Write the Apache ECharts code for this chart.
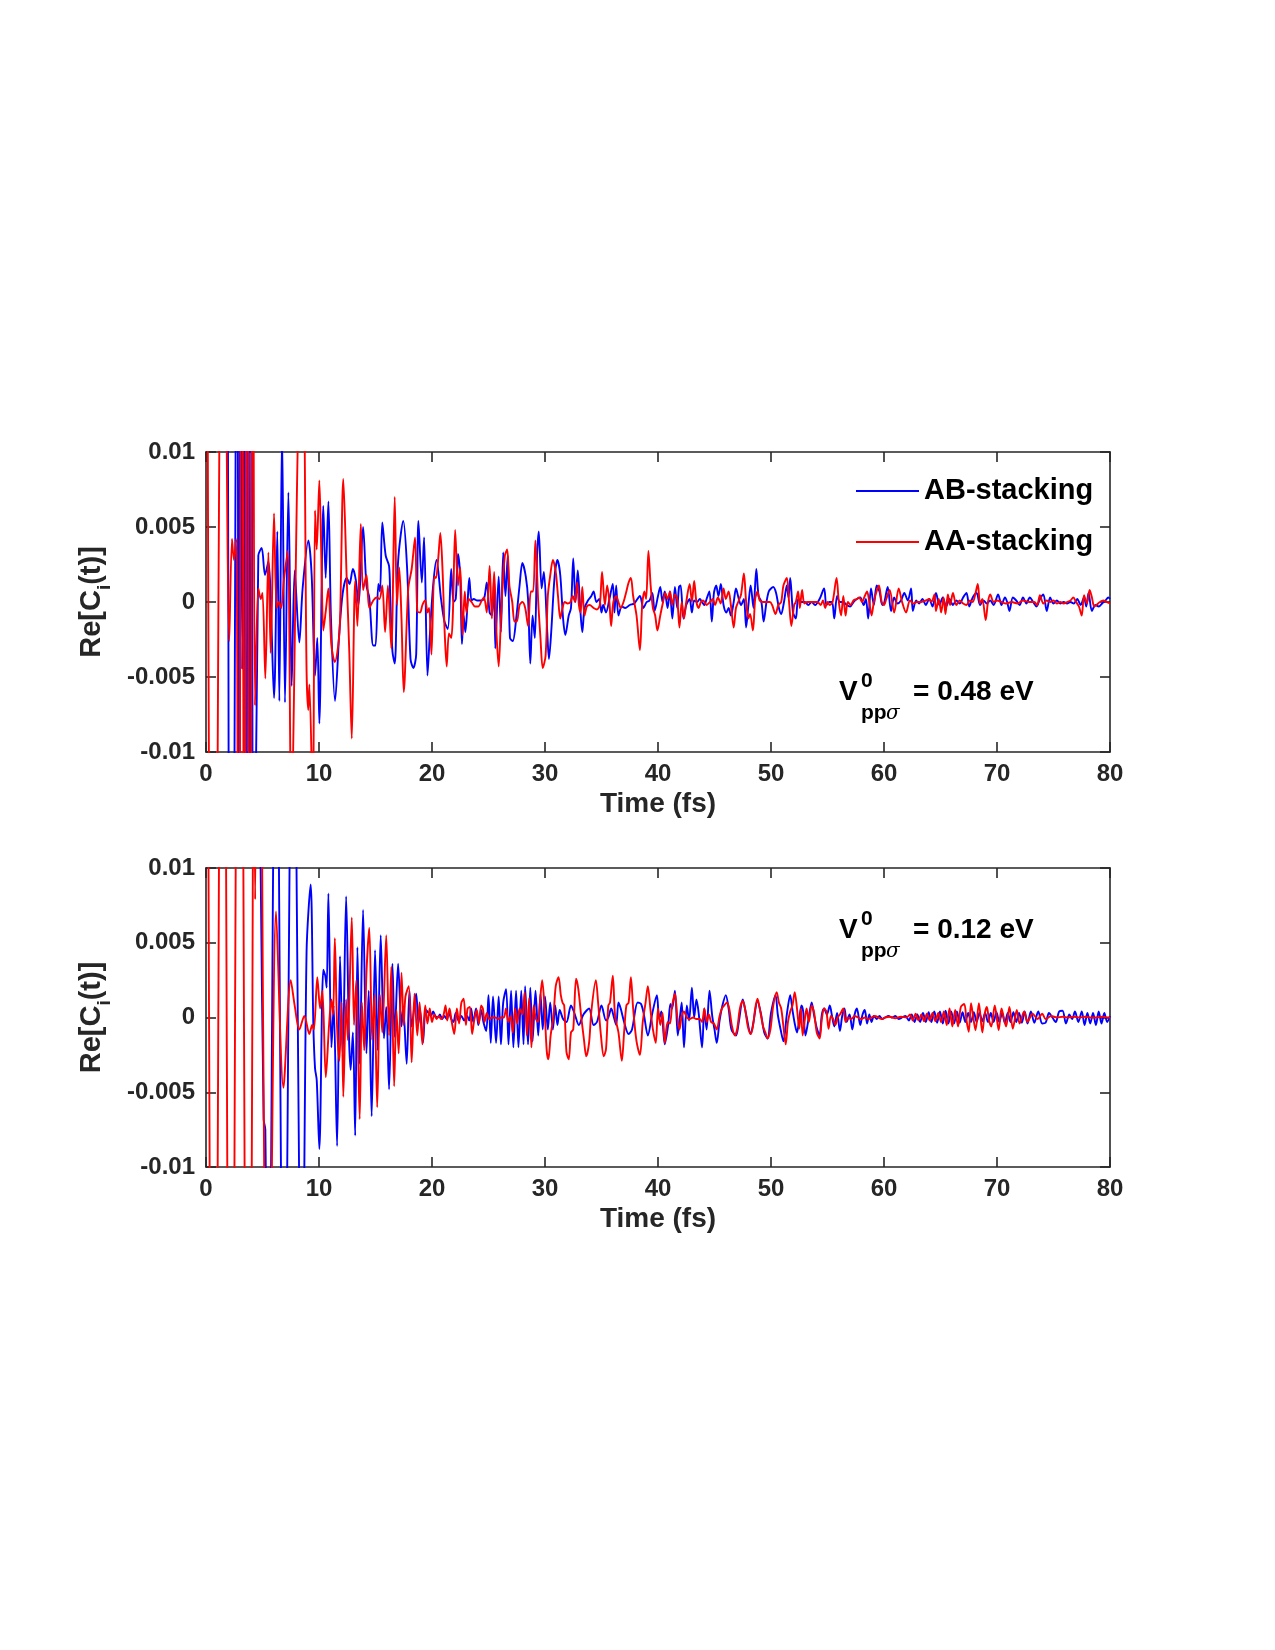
<!DOCTYPE html>
<html><head><meta charset="utf-8">
<script src="https://cdn.jsdelivr.net/npm/echarts/dist/echarts.min.js"></script>
<style>html,body{margin:0;padding:0;background:#fff}#c{width:1275px;height:1650px}</style>
</head><body><div id="c"></div>
<script>
// ---------------- data (time in fs, values in units of 1e-3) ----------------
const X_TICKS = [0, 10, 20, 30, 40, 50, 60, 70, 80];
const Y_TICK_VALUES = [-10, -5, 0, 5, 10];
const Y_TICK_LABELS = ['-0.01', '-0.005', '0', '0.005', '0.01'];
const SERIES_NAMES = ['AB-stacking', 'AA-stacking'];
const PANEL_LABELS = ['= 0.48 eV', '= 0.12 eV'];

// top panel, AB-stacking (blue)
const TOP_AB = [
[0,40],[1.85,40],[2.05,-35],[2.3,-40],[2.57,0],[2.75,35],[2.92,-35],[3.05,30],[3.2,-4.5],[3.35,32],[3.55,-35],[3.72,35],[3.92,-38],[4.05,35],[4.2,-30],
[4.63,3.1],[4.93,3.6],[5.22,1.8],[5.52,2.7],[6.02,-6.4],[6.31,4.7],[6.49,-6.6],[6.73,11.5],[6.99,-6.7],[7.29,7.3],[7.58,-5.6],[7.85,2.1],[8.26,-2.7],[8.55,0.9],
[9.06,4.1],[9.35,1.8],[9.65,-4.9],[9.85,-2.4],[10.03,-8.1],[10.38,6.4],[10.59,1.6],[10.83,6.7],[11.06,-1.1],[11.42,-6.6],[11.8,-2.0],[12.1,0.6],[12.45,1.6],
[12.7,1.2],[13.0,2.2],[13.25,1.5],[13.5,-0.2],[13.9,5.0],[14.2,1.1],[14.45,0.3],[14.8,-2.9],[15.0,-2.9],[15.25,1.2],[15.4,0.7],[15.6,5.3],[15.9,3.1],[16.2,2.4],
[16.3,0.4],[16.5,-3.3],[16.7,-4.1],[17.0,2.7],[17.46,5.4],[17.8,2.2],[18.1,-3.8],[18.35,-4.4],[18.6,-3.5],[18.8,5.4],[19.1,1.3],[19.3,4.3],[19.6,-4.9],[19.8,-2.3],
[20.1,1.1],[20.4,2.8],[20.8,0.2],[21.1,-1.3],[21.4,-1.8],[21.7,2.2],[21.9,0.0],[22.1,0.2],[22.3,3.2],[22.5,1.6],[22.65,-2.8],[22.8,-0.9],[22.95,-2.0],[23.15,0.0],
[23.3,1.6],[23.5,0.1],[23.7,0.2],[24.0,0.1],[24.3,0.1],[24.6,0.2],[24.85,1.3],[25.1,-0.7],[25.3,-0.9],[25.5,1.6],[25.6,-3.1],[25.9,1.7],[26.1,-2.0],[26.3,3.3],
[26.5,0.4],[26.7,3.1],[26.9,-2.4],[27.15,-2.6],[27.45,-1.1],[27.75,1.1],[28.0,2.6],[28.3,1.7],[28.5,0.2],[28.7,-4.1],[28.9,-0.9],[29.1,-2.4],[29.3,3.1],[29.45,4.7],
[29.7,0.9],[29.9,2.0],[30.2,-2.0],[30.35,-3.8],[30.55,-2.0],[30.85,1.7],[31.1,2.8],[31.35,1.8],[31.6,-1.1],[31.8,-2.2],[32.1,-0.9],[32.3,-0.4],[32.5,2.9],[32.7,0.0],
[32.9,2.1],[33.1,-0.2],[33.3,-2.0],[33.5,-0.4],[33.8,0.1],[34.1,0.4],[34.3,0.7],[34.55,0.0],[34.8,0.2],[35.0,-0.7],[35.15,-0.2],[35.4,-0.7],[35.7,0.2],[36.0,1.2],
[36.15,-0.7],[36.3,1.1],[36.5,-0.9],[36.8,-0.3],[37.1,-0.4],[37.5,-0.2],[37.9,-0.1],[38.4,0.4],[38.7,-0.4],[39.0,0.0],[39.25,0.1],[39.5,0.6],[39.7,-0.6],[40.0,0.4],
[40.2,1.0],[40.4,0.0],[40.6,0.7],[40.85,-0.4],[41.05,0.7],[41.27,-1.1],[41.5,1.0],[41.7,-0.4],[41.86,1.0],[42.0,1.1],[42.25,-1.1],[42.5,-0.2],[42.8,0.2],[43.0,-0.7],
[43.2,0.1],[43.45,0.0],[43.7,0.2],[43.9,0.0],[44.1,-0.2],[44.3,0.2],[44.55,0.7],[44.76,-1.3],[44.95,0.6],[45.15,1.1],[45.35,0.4],[45.56,1.2],[45.8,-0.2],[46.05,-0.7],
[46.25,-0.4],[46.45,-0.9],[46.7,0.0],[46.9,0.9],[47.15,0.2],[47.35,-0.2],[47.6,0.2],[47.8,-1.7],[48.0,-0.2],[48.2,1.1],[48.45,-0.4],[48.7,2.2],[48.9,0.4],[49.15,0.0],
[49.35,-1.3],[49.6,0.0],[49.8,0.7],[50.0,0.9],[50.2,1.0],[50.45,0.6],[50.7,-0.4],[50.9,-0.8],[51.15,0.0],[51.4,1.1],[51.55,0.3],[51.7,1.6],[51.95,-0.7],[52.2,-1.1],
[52.4,0.2],[52.7,0.0],[53.0,0.0],[53.3,-0.2],[53.6,0.0],[53.9,-0.2],[54.3,0.2],[54.7,0.9],[54.9,-0.2],[55.15,0.0],[55.4,0.0],[55.6,-1.1],[55.85,0.4],[56.1,0.0],
[56.4,0.0],[56.7,-0.2],[57.0,-0.3],[57.3,0.0],[57.6,0.2],[57.9,0.3],[58.2,-0.2],[58.4,0.2],[58.6,-1.1],[58.85,0.9],[59.1,-0.2],[59.35,1.1],[59.6,0.7],[59.85,-0.2],
[60.0,-0.1],[60.33,1.0],[60.62,-0.6],[60.9,0.3],[61.2,-0.1],[61.5,0.1],[61.8,0.6],[62.1,0.1],[62.4,0.9],[62.55,-0.6],[62.85,0.1],[63.1,-0.1],[63.4,0.2],[63.7,-0.2],
[64.0,0.2],[64.3,-0.3],[64.6,0.6],[64.9,-0.2],[65.2,0.3],[65.5,-0.3],[65.8,0.2],[66.1,-0.2],[66.4,0.1],[66.7,-0.1],[67.0,0.3],[67.3,0.6],[67.55,-0.3],[67.85,0.3],
[68.2,0.6],[68.5,-0.2],[68.8,0.1],[69.1,-0.1],[69.4,0.1],[69.7,-0.2],[70.1,0.5],[70.4,-0.2],[70.7,0.3],[70.9,0.0],[71.1,-0.6],[71.4,0.3],[71.7,0.1],[72.0,-0.2],
[72.3,0.3],[72.6,-0.1],[72.9,0.3],[73.2,0.0],[73.5,-0.3],[73.8,0.2],[74.1,0.5],[74.4,-0.6],[74.7,0.3],[75.0,-0.1],[75.3,0.1],[75.6,-0.1],[75.9,0.0],[76.2,-0.1],
[76.5,0.0],[76.8,-0.1],[77.1,0.2],[77.4,-0.2],[77.7,0.3],[77.9,-0.3],[78.1,0.6],[78.4,-0.6],[78.7,-0.2],[79.0,-0.3],[79.3,-0.1],[79.6,0.1],[79.85,0.3],[80,0.2]
];

// top panel, AA-stacking (red)
const TOP_AA = [
[0,60],[0.2,0],[0.65,-60],[1.1,0],[1.5,40],[2.06,-2.6],[2.3,4.2],[2.47,2.8],[2.68,4.2],[2.9,-40],[3.15,38],[3.42,-38],[3.62,38],[3.9,-40],[4.15,30],
[4.34,-6.9],[4.63,0.9],[4.85,0.2],[5.0,0.6],[5.25,-5.1],[5.52,3.3],[5.72,-3.4],[6.02,5.9],[6.25,-0.4],[6.45,0.0],[6.65,-0.4],[6.9,1.5],[7.23,3.4],
[7.55,-14],[8.35,15],[8.6,15],[8.9,-4.6],[9.05,-7.2],[9.15,-5.5],[9.45,-14],[9.65,6.1],[9.8,3.5],[10.03,8.1],[10.24,1.8],[10.38,-1.9],[10.6,-0.6],[10.83,0.9],
[11.1,-2.9],[11.4,-4.0],[11.7,-2.9],[11.86,-1.3],[12.15,8.2],[12.45,1.6],[12.68,-3.3],[12.9,-9.1],[13.2,1.4],[13.4,-1.6],[13.7,5.2],[13.9,0.8],[14.2,1.8],
[14.45,-0.4],[14.8,0.1],[15.1,0.3],[15.35,0.2],[15.6,1.1],[15.85,-2.0],[16.1,1.1],[16.4,-3.1],[16.7,7.0],[16.9,-0.2],[17.1,2.3],[17.3,-1.1],[17.5,-6.0],[17.9,0.9],
[18.2,2.2],[18.5,4.3],[18.7,-0.6],[18.95,-0.7],[19.15,-0.2],[19.4,0.1],[19.6,-0.7],[19.75,-0.4],[19.95,-3.5],[20.2,1.7],[20.35,1.6],[20.55,2.9],[20.74,4.6],
[20.95,1.8],[21.1,-1.6],[21.3,-4.3],[21.5,-2.1],[21.7,-2.4],[21.85,-0.7],[22.05,4.8],[22.3,1.1],[22.5,2.3],[22.7,-2.2],[22.9,0.7],[23.05,-0.7],[23.25,0.2],
[23.5,0.0],[23.8,-0.3],[24.1,-0.3],[24.4,0.1],[24.6,0.3],[24.85,-0.7],[25.1,2.4],[25.3,-1.1],[25.5,2.0],[25.7,-2.0],[25.9,-4.3],[26.1,-1.1],[26.25,1.1],[26.45,3.1],
[26.65,3.5],[26.85,1.1],[27.1,0.0],[27.3,-1.3],[27.5,-1.3],[27.75,-0.2],[28.0,0.0],[28.25,-0.4],[28.5,-1.6],[28.75,0.7],[28.95,0.7],[29.15,4.1],[29.4,0.0],[29.6,-2.4],
[29.8,-4.4],[30.05,-3.6],[30.25,0.4],[30.45,1.7],[30.7,2.8],[30.95,2.0],[31.15,0.4],[31.35,-1.1],[31.55,-0.4],[31.75,0.0],[32.0,-0.1],[32.25,0.0],[32.45,0.4],[32.65,0.0],
[32.85,1.3],[33.0,-0.2],[33.15,-0.7],[33.3,1.0],[33.5,-0.9],[33.7,-0.3],[33.95,-0.2],[34.3,-0.4],[34.6,-0.5],[34.85,-0.2],[35.05,2.0],[35.3,-0.2],[35.5,1.1],[35.7,0.0],
[35.85,-1.6],[36.05,0.0],[36.3,0.4],[36.5,0.0],[36.7,-0.4],[36.95,0.0],[37.2,0.7],[37.4,1.3],[37.6,1.6],[37.8,0.4],[38.1,-0.9],[38.4,-3.2],[38.6,-0.2],[38.8,0.7],
[38.95,0.2],[39.15,3.4],[39.35,1.1],[39.55,-0.4],[39.75,-0.9],[39.95,-1.9],[40.2,-0.9],[40.45,0.0],[40.65,0.6],[40.85,0.2],[41.07,0.7],[41.25,-0.2],[41.5,0.5],
[41.7,0.2],[41.9,-1.7],[42.1,0.0],[42.3,-1.1],[42.5,0.0],[42.8,1.2],[43.0,0.0],[43.2,1.4],[43.4,0.0],[43.6,-0.4],[43.8,0.0],[44.0,0.1],[44.3,-0.2],[44.6,0.0],
[44.85,0.2],[45.05,-0.2],[45.3,0.3],[45.55,-0.1],[45.8,0.9],[46.0,0.2],[46.25,0.7],[46.45,-0.2],[46.7,-1.7],[46.9,-0.4],[47.15,0.1],[47.35,0.5],[47.6,1.9],[47.8,0.0],
[48.0,-1.1],[48.15,-0.8],[48.4,-1.9],[48.6,0.2],[48.8,0.7],[49.0,0.1],[49.3,0.0],[49.6,0.0],[49.9,0.0],[50.1,-0.2],[50.4,-0.8],[50.65,-0.2],[50.9,0.0],[51.1,1.1],
[51.4,1.6],[51.6,0.0],[51.8,-1.6],[52.05,-0.2],[52.2,0.0],[52.4,0.7],[52.55,-0.4],[52.75,0.8],[52.95,-0.1],[53.2,0.0],[53.5,0.0],[53.8,0.0],[54.1,0.0],[54.4,-0.2],
[54.6,0.1],[54.8,-0.4],[55.0,0.0],[55.2,-0.2],[55.45,0.0],[55.8,1.6],[56.0,0.0],[56.2,-0.9],[56.4,0.4],[56.6,-0.9],[56.8,0.0],[57.05,-0.2],[57.3,0.1],[57.6,0.2],
[57.8,0.3],[58.05,0.0],[58.3,0.4],[58.5,0.7],[58.7,0.0],[58.9,-0.9],[59.1,0.0],[59.3,0.6],[59.55,1.1],[59.8,0.0],[60.0,-0.2],[60.2,0.2],[60.5,0.8],[60.9,-0.7],
[61.3,0.9],[61.6,0.0],[61.95,-0.7],[62.3,0.1],[62.6,-0.1],[62.9,0.0],[63.3,0.0],[63.7,0.1],[64.0,0.2],[64.2,0.0],[64.47,0.5],[64.6,-0.6],[64.85,0.2],[65.06,-0.7],
[65.27,0.3],[65.44,-0.8],[65.65,0.5],[65.85,-0.2],[66.1,0.6],[66.4,-0.2],[66.7,0.1],[67.0,-0.1],[67.3,-0.2],[67.6,0.1],[67.85,0.0],[68.1,0.6],[68.3,1.2],[68.5,-0.1],
[68.7,0.2],[69.0,-1.2],[69.2,0.0],[69.4,0.5],[69.7,0.0],[70.0,0.1],[70.4,0.0],[70.8,-0.1],[71.3,0.0],[71.8,-0.1],[72.3,0.1],[72.8,0.0],[73.3,0.0],[73.55,-0.2],
[73.8,0.45],[74.1,-0.1],[74.4,0.1],[74.7,0.0],[75.0,0.1],[75.3,-0.1],[75.6,0.0],[75.9,-0.1],[76.2,0.0],[76.5,0.1],[76.75,0.3],[77.0,0.0],[77.25,-0.3],[77.5,-0.9],
[77.7,0.45],[77.95,-0.1],[78.2,0.8],[78.4,0.3],[78.6,-0.3],[78.8,-0.2],[79.1,0.0],[79.4,0.1],[79.7,0.0],[80,-0.1]
];

// bottom panel, AB-stacking (blue)
const BOT_AB = [
[0,30],[4.15,28],[4.3,10.5],[4.5,28],[4.85,9],[5.1,-6.8],[5.25,-7.5],[5.5,-28],[6.2,28],[6.9,-28],[7.7,28],[8.5,-24],[8.9,4.4],[9.26,8.9],[9.5,-0.5],[9.65,-3.4],
[9.8,-4.2],[10.03,-8.8],[10.38,3.2],[10.55,2.8],[10.68,2.0],[10.83,8.3],[11.1,-2.0],[11.3,0.8],[11.6,-8.6],[11.86,4.1],[12.1,-2.6],[12.4,8.1],[12.65,-1.2],[12.8,-3.5],
[13.0,-1.0],[13.2,-7.9],[13.4,4.7],[13.6,-3.1],[13.9,7.2],[14.2,-2.4],[14.4,1.8],[14.66,-6.6],[14.96,4.5],[15.2,-2.2],[15.46,5.5],[15.75,-1.4],[15.95,0.7],[16.2,-4.8],
[16.5,3.6],[16.7,-1.3],[17.0,3.6],[17.3,-0.6],[17.45,0.7],[17.76,-3.1],[18.0,1.8],[18.2,-0.6],[18.6,1.6],[18.8,-0.4],[18.95,0.5],[19.2,-1.7],[19.45,0.5],[19.7,0.3],
[19.9,0.1],[20.1,0.4],[20.3,0.1],[20.5,0.0],[20.7,0.2],[20.9,-0.1],[21.1,0.1],[21.3,-0.1],[21.5,0.3],[21.7,-0.1],[21.9,-0.3],[22.1,0.3],[22.35,-0.2],[22.6,0.1],
[22.85,-0.2],[23.1,0.1],[23.3,-0.2],[23.46,0.6],[23.65,-0.3],[23.9,0.6],[24.1,-0.5],[24.35,0.5],[24.55,-0.3],[24.8,-0.9],[25.0,1.5],[25.2,-1.7],[25.4,1.4],[25.67,-1.7],
[25.9,1.4],[26.1,-1.8],[26.3,1.0],[26.56,1.9],[26.77,-1.8],[27.0,1.8],[27.2,-2.0],[27.44,1.8],[27.65,-2.0],[27.9,1.8],[28.1,-1.8],[28.24,2.1],[28.5,-1.8],[28.7,2.0],
[28.9,-1.6],[29.16,1.8],[29.4,-1.2],[29.6,1.6],[29.8,-0.8],[30.0,1.4],[30.25,-0.8],[30.46,1.0],[30.7,-0.8],[30.9,0.8],[31.1,-0.5],[31.3,0.5],[31.6,-0.1],[31.9,-0.3],
[32.3,0.8],[32.6,0.3],[33.0,-0.5],[33.4,0.2],[33.9,0.6],[34.3,-0.5],[34.6,-0.3],[35.0,0.8],[35.4,-0.2],[35.6,0.0],[35.86,0.6],[36.1,0.0],[36.3,-0.5],[36.5,1.0],
[36.7,0.6],[37.0,-0.3],[37.4,-1.1],[37.7,-0.8],[38.2,1.0],[38.5,0.9],[38.75,0.2],[39.1,-1.2],[39.5,0.3],[39.9,1.5],[40.1,-0.1],[40.3,0.4],[40.6,-1.8],[40.9,-0.5],
[41.1,0.9],[41.25,0.6],[41.5,1.8],[41.75,-1.2],[41.95,0.1],[42.1,1.0],[42.3,-2.0],[42.55,0.8],[42.75,-0.2],[43.0,2.0],[43.2,0.0],[43.4,1.2],[43.6,0.3],[43.9,-2.0],
[44.1,0.6],[44.3,-0.8],[44.56,1.8],[44.8,0.1],[45.0,-0.8],[45.2,-1.7],[45.45,-0.2],[45.7,0.8],[46.0,1.5],[46.25,0.6],[46.5,-0.8],[46.9,-1.2],[47.15,-0.3],[47.5,1.2],
[47.8,0.2],[48.2,-1.1],[48.45,-0.3],[48.8,1.1],[49.1,0.3],[49.4,-1.0],[49.7,-1.4],[50.0,0.3],[50.4,1.5],[50.6,0.2],[50.85,-0.8],[51.1,-1.6],[51.4,0.2],[51.7,1.5],
[51.9,0.5],[52.1,-0.4],[52.3,-1.0],[52.5,-0.1],[52.7,0.8],[52.85,0.4],[53.05,-1.2],[53.3,-0.2],[53.6,1.0],[53.8,0.2],[54.05,-0.7],[54.3,-1.2],[54.5,0.2],[54.7,0.6],
[54.95,0.2],[55.2,0.8],[55.4,0.1],[55.6,-0.6],[55.85,0.3],[56.1,-0.9],[56.3,0.1],[56.5,0.6],[56.7,-0.3],[56.95,0.2],[57.2,-0.8],[57.4,0.2],[57.6,0.6],[57.9,-0.5],
[58.1,0.2],[58.3,0.5],[58.5,-0.4],[58.7,0.2],[58.9,-0.3],[59.1,0.1],[59.35,-0.1],[59.6,0.1],[59.85,-0.1],[60.1,0.0],[60.4,0.1],[60.7,0.0],[61.0,0.1],[61.3,-0.1],
[61.6,0.0],[61.9,0.1],[62.2,-0.2],[62.45,0.2],[62.7,-0.3],[62.95,0.2],[63.2,-0.3],[63.45,0.3],[63.7,-0.3],[63.95,0.35],[64.2,-0.3],[64.45,0.4],[64.7,-0.35],[64.95,0.4],
[65.2,-0.4],[65.45,0.45],[65.7,-0.4],[65.95,0.4],[66.2,-0.4],[66.45,0.4],[66.7,-0.35],[66.95,0.35],[67.2,-0.3],[67.45,0.3],[67.7,-0.3],[67.95,0.35],[68.2,-0.3],
[68.45,0.3],[68.7,-0.25],[68.95,0.3],[69.2,-0.3],[69.45,0.3],[69.7,-0.3],[69.95,0.35],[70.2,-0.3],[70.45,0.3],[70.7,-0.35],[70.95,0.3],[71.2,-0.3],[71.45,0.35],
[71.7,-0.3],[71.95,0.3],[72.2,-0.35],[72.45,0.4],[72.7,-0.4],[73.0,0.4],[73.3,-0.35],[73.65,0.4],[74.0,-0.4],[74.3,-0.35],[74.6,0.3],[74.9,0.0],[75.2,-0.3],[75.5,0.4],
[75.8,0.45],[76.1,-0.4],[76.4,0.2],[76.65,-0.1],[76.9,0.4],[77.2,-0.3],[77.5,0.4],[77.75,-0.5],[78.0,0.3],[78.25,-0.4],[78.5,0.3],[78.75,-0.5],[79.0,0.4],[79.25,-0.4],
[79.5,0.3],[79.75,-0.3],[80,0.1]
];

// bottom panel, AA-stacking (red)
const BOT_AA = [
[0,60],[0.27,0],[0.68,-60],[1.09,0],[1.46,60],[1.83,0],[2.2,-60],[2.57,0],[2.97,60],[3.36,0],[3.73,-60],[4.1,0],[4.22,22],[4.35,7.9],[4.55,30],[4.75,30],
[5.05,0],[5.3,-20],[5.55,-22],[6.2,7.1],[6.85,-4.7],[7.5,2.5],[7.85,0.8],[8.26,-0.8],[8.7,0.1],[9.15,-1.1],[9.4,-0.5],[9.55,-0.8],[9.85,2.7],[10.1,0.6],[10.3,1.8],
[10.6,-4.0],[10.9,-0.4],[11.1,1.2],[11.25,0.2],[11.4,5.3],[11.6,-0.6],[11.8,-2.9],[12.0,1.0],[12.15,-5.3],[12.4,1.2],[12.55,-1.5],[12.9,6.7],[13.1,-0.5],[13.3,2.5],
[13.6,-6.8],[13.8,1.0],[14.0,-2.2],[14.2,3.0],[14.45,6.0],[14.7,-1.5],[14.9,1.5],[15.15,-6.0],[15.4,1.5],[15.6,-1.0],[15.95,5.5],[16.2,-1.2],[16.4,3.4],[16.65,-4.6],
[16.85,0.5],[17.05,-2.4],[17.3,3.0],[17.5,-0.5],[17.65,1.4],[17.95,2.1],[18.2,-3.0],[18.45,1.6],[18.7,-1.2],[18.9,1.0],[19.15,-1.8],[19.4,0.8],[19.6,-0.4],[19.8,0.6],
[20.0,-0.3],[20.2,0.2],[20.4,-0.1],[20.6,0.1],[20.8,-0.1],[21.0,0.1],[21.2,0.8],[21.35,-0.2],[21.55,0.6],[21.75,-0.3],[21.97,-1.1],[22.2,0.6],[22.4,-0.4],[22.6,1.0],
[22.8,1.25],[23.0,-0.5],[23.15,0.6],[23.35,0.7],[23.55,-1.1],[23.75,-0.1],[23.95,0.5],[24.15,-0.4],[24.35,0.8],[24.5,0.6],[24.65,-0.3],[24.85,0.3],[25.05,-0.1],
[25.3,0.0],[25.6,0.0],[25.9,-0.1],[26.1,0.0],[26.35,0.0],[26.55,0.6],[26.75,-0.3],[26.95,0.1],[27.15,-1.0],[27.35,0.6],[27.55,-0.4],[27.75,0.6],[28.0,0.2],[28.2,1.7],
[28.4,-1.2],[28.6,1.3],[28.8,-2.0],[29.0,0.8],[29.2,-0.1],[29.4,-0.3],[29.55,1.0],[29.75,2.5],[29.95,0.8],[30.15,-2.2],[30.3,-2.8],[30.5,-1.2],[30.75,0.1],[30.95,2.1],
[31.2,2.7],[31.4,1.5],[31.55,1.0],[31.7,0.8],[31.9,-2.3],[32.1,-2.8],[32.3,-1.0],[32.5,-0.8],[32.75,2.6],[32.95,1.9],[33.2,0.1],[33.45,-1.5],[33.65,-2.6],[33.9,-1.7],
[34.1,0.4],[34.5,2.5],[34.7,1.0],[34.95,-1.2],[35.2,-2.6],[35.4,-2.1],[35.6,0.8],[35.75,1.0],[36.0,2.8],[36.2,0.1],[36.5,-1.0],[36.8,-2.9],[37.0,-1.0],[37.2,0.8],
[37.4,1.0],[37.6,2.7],[37.8,0.6],[38.1,-1.6],[38.4,-2.5],[38.65,-0.3],[38.9,1.0],[39.1,2.1],[39.35,0.4],[39.55,-0.8],[39.8,-1.7],[40.0,0.6],[40.2,-0.5],[40.4,0.3],
[40.6,-1.7],[40.85,-0.3],[41.05,-0.4],[41.25,0.8],[41.5,1.6],[41.7,0.1],[41.9,-0.8],[42.1,0.1],[42.3,0.4],[42.55,0.0],[42.8,-0.1],[43.1,0.0],[43.4,-0.1],[43.7,-0.1],
[43.9,-0.3],[44.1,0.6],[44.3,-0.3],[44.5,0.2],[44.7,-0.3],[44.95,-0.4],[45.2,-0.8],[45.45,0.1],[45.65,0.6],[45.85,0.8],[46.1,1.0],[46.3,0.6],[46.55,-0.6],[46.8,-1.2],
[47.0,-0.8],[47.25,0.6],[47.5,1.1],[47.7,0.6],[47.95,-0.6],[48.2,-1.1],[48.4,-0.6],[48.6,0.6],[48.8,1.25],[49.05,0.4],[49.3,-0.6],[49.5,-1.0],[49.7,-1.4],[49.95,-0.8],
[50.2,0.8],[50.5,1.7],[50.7,1.0],[50.9,0.6],[51.1,-0.6],[51.3,-1.8],[51.5,-0.3],[51.7,0.4],[51.9,0.8],[52.1,1.7],[52.3,0.6],[52.5,-0.75],[52.65,0.6],[52.8,-1.2],
[53.0,-0.1],[53.15,0.6],[53.35,-0.3],[53.6,0.8],[53.8,0.4],[54.05,-1.0],[54.3,-1.4],[54.5,-0.1],[54.7,0.6],[54.9,0.4],[55.1,-0.75],[55.3,0.1],[55.5,-0.1],[55.7,-0.5],
[55.9,0.0],[56.1,0.2],[56.4,0.6],[56.6,-0.3],[56.8,0.0],[57.1,-0.1],[57.4,0.1],[57.7,0.0],[58.0,-0.1],[58.3,0.0],[58.6,-0.1],[58.9,0.0],[59.2,0.1],[59.5,0.0],
[59.8,-0.1],[60.1,0.0],[60.5,0.05],[61.0,-0.05],[61.5,0.05],[62.0,0.0],[62.3,0.2],[62.55,-0.2],[62.8,0.25],[63.05,-0.2],[63.3,0.2],[63.55,-0.25],[63.8,0.25],
[64.05,-0.2],[64.3,0.3],[64.55,-0.25],[64.8,0.3],[65.05,-0.3],[65.3,0.4],[65.55,-0.5],[65.8,0.6],[66.05,-0.6],[66.3,0.5],[66.55,-0.6],[66.8,0.7],[67.1,0.9],[67.3,-0.2],
[67.5,-0.95],[67.7,0.95],[67.9,0.0],[68.1,-0.85],[68.4,0.95],[68.7,-1.0],[68.9,0.2],[69.1,0.7],[69.3,-0.2],[69.5,-0.6],[69.8,0.8],[70.15,-0.85],[70.4,0.6],[70.8,-0.6],
[71.1,0.7],[71.4,-0.75],[71.75,0.5],[72.0,-0.4],[72.4,0.4],[72.7,-0.3],[73.15,0.25],[73.6,-0.1],[74.0,0.25],[74.3,-0.1],[74.8,0.1],[75.3,0.0],[75.8,0.05],[76.3,0.0],
[76.8,0.05],[77.3,0.0],[77.8,0.05],[78.3,0.0],[78.8,0.0],[79.3,0.05],[79.8,0.0],[80,0.0]
];

// ---------------- chart ----------------
const FONT = '"Liberation Sans", Arial, Helvetica, sans-serif';
const AX = '#262626';
const BLUE = '#0000ff', RED = '#ff0000';
const GRIDS = [
  { left: 206, top: 452, width: 904, height: 300 },
  { left: 206, top: 868, width: 904, height: 299 }
];
const lineAx = { onZero: false, lineStyle: { color: AX, width: 1.6 } };
const tickIn = { inside: true, length: 10, lineStyle: { color: AX, width: 1.6 } };
const labelStyle = { color: AX, fontFamily: FONT, fontWeight: 'bold', fontSize: 24 };
const yLabel = v => Y_TICK_LABELS[Y_TICK_VALUES.indexOf(v)];

const xAxis = [], yAxis = [];
GRIDS.forEach((g, i) => {
  xAxis.push({
    type: 'value', gridIndex: i, min: X_TICKS[0], max: X_TICKS[X_TICKS.length - 1], interval: 10, position: 'bottom',
    axisLine: lineAx, axisTick: tickIn, splitLine: { show: false },
    axisLabel: Object.assign({ margin: 10, formatter: v => String(v) }, labelStyle),
    name: 'Time (fs)', nameLocation: 'middle', nameGap: 38,
    nameTextStyle: { color: AX, fontFamily: FONT, fontWeight: 'bold', fontSize: 28 }
  });
  xAxis.push({
    type: 'value', gridIndex: i, min: 0, max: 80, interval: 10, position: 'top',
    axisLine: lineAx, axisTick: tickIn, axisLabel: { show: false }, splitLine: { show: false }
  });
  yAxis.push({
    type: 'value', gridIndex: i, min: -10, max: 10, interval: 5, position: 'left',
    axisLine: lineAx, axisTick: tickIn, splitLine: { show: false },
    axisLabel: Object.assign({ margin: 11, formatter: yLabel }, labelStyle),
    name: '{a|Re[C}{s|i}{a|(t)]}', nameLocation: 'middle', nameGap: 100, nameRotate: 90,
    nameTextStyle: {
      rich: {
        a: { color: AX, fontFamily: FONT, fontWeight: 'bold', fontSize: 29, lineHeight: 29 },
        s: { color: AX, fontFamily: FONT, fontWeight: 'bold', fontSize: 19, lineHeight: 19, padding: [26, 0, 0, 0] }
      }
    }
  });
  yAxis.push({
    type: 'value', gridIndex: i, min: -10, max: 10, interval: 5, position: 'right',
    axisLine: lineAx, axisTick: tickIn, axisLabel: { show: false }, splitLine: { show: false }
  });
});

function mkSeries(name, data, color, gi) {
  return {
    type: 'line', name: name, data: data, xAxisIndex: gi * 2, yAxisIndex: gi * 2,
    showSymbol: false, symbol: 'none', smooth: 0.3, clip: true,
    lineStyle: { color: color, width: 1.9 }, itemStyle: { color: color },
    emphasis: { disabled: true }
  };
}

function annotation(y0, label) {
  // y0 = baseline of main text
  const f = (size, italic) => ({ fontFamily: italic ? '"DejaVu Serif", serif' : FONT, fontWeight: italic ? 'normal' : 'bold', fontStyle: italic ? 'italic' : 'normal', fontSize: size });
  return [
    { type: 'text', left: 839, top: y0 - 24, style: Object.assign({ text: 'V', fill: '#000' }, f(28)) },
    { type: 'text', left: 861, top: y0 - 31, style: Object.assign({ text: '0', fill: '#000' }, f(21)) },
    { type: 'text', left: 861, top: y0 + 1, style: Object.assign({ text: 'pp', fill: '#000' }, f(21)) },
    { type: 'text', left: 886, top: y0 + 2, style: Object.assign({ text: 'σ', fill: '#000' }, f(20, true)) },
    { type: 'text', left: 913, top: y0 - 24, style: Object.assign({ text: label, fill: '#000' }, f(28)) }
  ];
}

const chart = echarts.init(document.getElementById('c'), null, { renderer: 'canvas', width: 1275, height: 1650 });
chart.setOption({
  backgroundColor: '#ffffff',
  animation: false,
  grid: GRIDS,
  xAxis: xAxis,
  yAxis: yAxis,
  legend: {
    data: SERIES_NAMES, orient: 'vertical', left: 851, top: 471,
    itemWidth: 63, itemHeight: 2, itemGap: 21, icon: 'rect',
    textStyle: { color: '#000', fontFamily: FONT, fontWeight: 'bold', fontSize: 29, lineHeight: 30, padding: [0, 0, 0, 0] },
    selectedMode: false
  },
  series: [
    mkSeries(SERIES_NAMES[0], TOP_AB, BLUE, 0),
    mkSeries(SERIES_NAMES[1], TOP_AA, RED, 0),
    mkSeries(SERIES_NAMES[0], BOT_AB, BLUE, 1),
    mkSeries(SERIES_NAMES[1], BOT_AA, RED, 1)
  ],
  graphic: annotation(702, PANEL_LABELS[0]).concat(annotation(940, PANEL_LABELS[1]))
});
</script>
</body></html>
